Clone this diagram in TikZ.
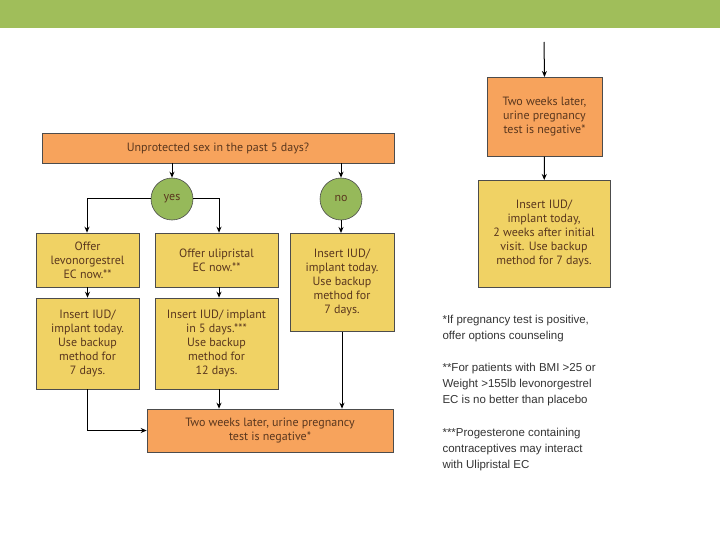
\documentclass[tikz,border=0pt]{standalone}
\usepackage{fontspec}
\setmainfont{PT Sans}
\newfontfamily\notefont{Liberation Sans}
\usetikzlibrary{arrows.meta}
\definecolor{barGreen}{RGB}{160,190,90}
\definecolor{boxOrange}{RGB}{247,163,92}
\definecolor{boxYellow}{RGB}{240,210,100}
\definecolor{circGreen}{RGB}{150,185,90}
\definecolor{txt}{RGB}{90,55,30}
\begin{document}
\begin{tikzpicture}[x=1pt,y=-1pt,
  box/.style={draw=black!70,line width=0.6pt,align=center,inner sep=0pt,text=txt,font=\fontsize{12}{14}\selectfont},
  ob/.style={box,fill=boxOrange},
  yb/.style={box,fill=boxYellow},
  dec/.style={circle,draw=black!70,line width=0.6pt,fill=circGreen,minimum size=42pt,inner sep=0pt,text=txt,font=\fontsize{12}{14}\selectfont},
  arr/.style={-{Stealth[length=6pt,width=5pt]},line width=1pt},
  note/.style={anchor=north west,align=left,text=black!80,font=\notefont\fontsize{11.5}{16}\selectfont}]
\useasboundingbox (0,0) rectangle (720,540);
\fill[barGreen] (0,0) rectangle (720,28);
% left flow
\node[ob,minimum width=352pt,minimum height=30pt] (q) at (218,148) {Unprotected sex in the past 5 days?};
\node[dec] (yes) at (172,199) {yes};
\node[dec] (no) at (341,199) {no};
\node[yb,minimum width=103pt,minimum height=54pt] (lev) at (87.5,260) {Offer\\levonorgestrel\\EC now.**};
\node[yb,minimum width=123pt,minimum height=54pt] (uli) at (216.5,260) {Offer ulipristal\\EC now.**};
\node[yb,minimum width=104pt,minimum height=98pt,anchor=north] (ins) at (342,233) {Insert IUD/\\implant today.\\Use backup\\method for\\7 days.};
\node[yb,minimum width=103pt,minimum height=91pt] (ins1) at (87.5,343.5) {Insert IUD/\\implant today.\\Use backup\\method for\\7 days.};
\node[yb,minimum width=123pt,minimum height=91pt] (ins2) at (216.5,343.5) {Insert IUD/ implant\\in 5 days.***\\Use backup\\method for\\12 days.};
\node[ob,minimum width=246pt,minimum height=43pt] (two) at (270,430.5) {Two weeks later, urine pregnancy\\test is negative*};
\coordinate (qa) at (172,163);
\coordinate (qb) at (341,163);
\draw[arr] (qa) -- (yes);
\draw[arr] (qb) -- (no);
\draw[arr] (yes.west) -| (lev.north -| 87,0);
\draw[arr] (yes.east) -| (uli.north -| 219,0);
\draw[arr] (no) -- (no |- ins.north);
\draw[arr] (lev) -- (ins1);
\draw[arr] (uli.south -| 219,0) -- (ins2.north -| 219,0);
\draw[arr] (ins1.south) |- (two.west);
\draw[arr] (ins2.south -| 219,0) -- (two.north -| 219,0);
\draw[arr] (ins.south) -- (two.north -| ins.south);
% right flow
\coordinate (top) at (544,42);
\node[ob,minimum width=115pt,minimum height=79pt,anchor=north] (r1) at (544.5,77) {Two weeks later,\\urine pregnancy\\test is negative*};
\node[yb,minimum width=132pt,minimum height=107pt,anchor=north] (r2) at (544,180) {Insert IUD/\\implant today,\\2 weeks after initial\\visit. Use backup\\method for 7 days.};
\draw[arr] (top) -- (r1.north);
\draw[arr] (r1) -- (r2);
% notes
\node[note] (n1) at (439,312) {*If pregnancy test is positive,\\offer options counseling};
\node[note] (n2) at (439,360) {**For patients with BMI >25 or\\Weight >155lb levonorgestrel\\EC is no better than placebo};
\node[note] (n3) at (439,425) {***Progesterone containing\\contraceptives may interact\\with Ulipristal EC};
\end{tikzpicture}
\end{document}
